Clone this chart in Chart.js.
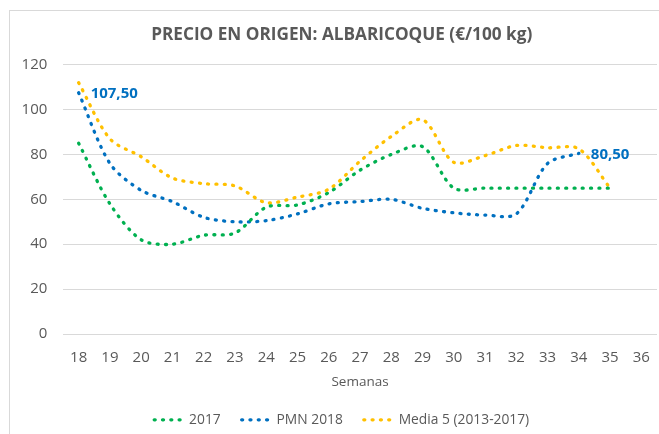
<!DOCTYPE html>
<html>
<head>
<meta charset="utf-8">
<script src="https://cdn.jsdelivr.net/npm/chart.js@4.4.1/dist/chart.umd.min.js"></script>
<style>
  html, body { margin: 0; padding: 0; background: #ffffff; overflow: hidden; }
  #frame { position: absolute; left: 9px; top: 10px; border-left: 1px solid #d9d9d9; border-top: 1px solid #d9d9d9; width: 680px; height: 460px; }
  #c { display: block; }
</style>
</head>
<body>
<div id="frame"><canvas id="c" width="666" height="440"></canvas></div>
<script>
const weeks = ['18','19','20','21','22','23','24','25','26','27','28','29','30','31','32','33','34','35','36'];
const serie2017 = [85, 58, 42, 40, 44, 45, 56.5, 57.5, 63, 73, 80, 83.5, 65, 65, 65, 65, 65, 65, null];
const pmn2018 = [107.5, 76, 64, 59, 52, 50, 50.5, 53.5, 58, 59, 60, 56, 54, 53, 53.5, 76, 80.5, null, null];
const media5 = [112, 87, 79, 69.5, 67, 66, 58.5, 61, 64.5, 77, 88, 95.5, 76.5, 79.5, 84, 83, 82.5, 65, null];
const seriesNames = ['2017', 'PMN 2018', 'Media 5 (2013-2017)'];
const labelledPoints = [0, 16]; // indexes of PMN 2018 points with value labels

const GRAY = '#595959';
const dash = [1, 7.3];

function ds(label, data, color) {
  return {
    label: label, data: data, borderColor: color, backgroundColor: color,
    borderWidth: 3.3, borderDash: dash, borderCapStyle: 'round',
    pointRadius: 0, pointHoverRadius: 0, tension: 0.3, fill: false
  };
}

const valueLabels = {
  id: 'valueLabels',
  afterDatasetsDraw(chart) {
    const meta = chart.getDatasetMeta(1);
    const ctx = chart.ctx;
    ctx.save();
    ctx.font = 'bold 15px "Open Sans"';
    ctx.fillStyle = '#0070C0';
    ctx.textAlign = 'left';
    ctx.textBaseline = 'middle';
    labelledPoints.forEach(i => {
      const el = meta.data[i];
      const v = chart.data.datasets[1].data[i];
      ctx.fillText(v.toFixed(2).replace('.', ','), el.x + 12, el.y + 1);
    });
    ctx.restore();
  }
};

new Chart(document.getElementById('c'), {
  type: 'line',
  data: {
    labels: weeks,
    datasets: [
      ds(seriesNames[0], serie2017, '#00B050'),
      ds(seriesNames[1], pmn2018, '#0070C0'),
      ds(seriesNames[2], media5, '#FFC000')
    ]
  },
  options: {
    responsive: false,
    animation: false,
    devicePixelRatio: 1,
    layout: { padding: { left: 0, right: 2.6, top: 0, bottom: 14.25 } },
    plugins: {
      title: {
        display: true,
        text: 'PRECIO EN ORIGEN: ALBARICOQUE (€/100 kg)',
        color: GRAY,
        font: { family: '"Open Sans"', size: 17.2, weight: 'bold', lineHeight: 1.2 },
        padding: { top: 13.7, bottom: 19.36 }
      },
      legend: {
        display: true,
        position: 'bottom',
        labels: {
          usePointStyle: true,
          pointStyle: 'line',
          pointStyleWidth: 28,
          padding: 21,
          color: GRAY,
          font: { family: '"Open Sans"', size: 13.8 },
          generateLabels(chart) {
            return chart.data.datasets.map((d, i) => ({
              text: d.label,
              fillStyle: d.borderColor,
              strokeStyle: d.borderColor,
              lineWidth: d.borderWidth,
              lineDash: d.borderDash,
              lineCap: 'round',
              pointStyle: 'line',
              hidden: false,
              datasetIndex: i,
              fontColor: GRAY
            }));
          }
        }
      },
      tooltip: { enabled: false }
    },
    scales: {
      x: {
        offset: true,
        grid: { display: false, drawTicks: false },
        border: { display: false },
        ticks: { color: GRAY, padding: 15, font: { family: '"Open Sans"', size: 15 }, maxRotation: 0, autoSkip: false },
        title: {
          display: true, text: 'Semanas', color: GRAY,
          font: { family: '"Open Sans"', size: 13.5, lineHeight: 1.2 },
          padding: { top: -8.4, bottom: 2.15 }
        },
        afterFit(scale) { scale.height = 57.95; }
      },
      y: {
        min: 0, max: 120,
        grid: { color: '#d9d9d9', lineWidth: 1, drawTicks: false },
        border: { display: false },
        ticks: { stepSize: 20, color: GRAY, padding: 15.7, font: { family: '"Open Sans"', size: 15 } },
        afterFit(scale) { scale.width = 53; }
      },
      y2: {
        type: 'linear',
        position: 'right',
        display: true,
        grid: { display: false, drawTicks: false },
        border: { display: false },
        ticks: { display: false },
        afterFit(scale) { scale.width = 16.4; }
      }
    }
  },
  plugins: [valueLabels]
});
</script>
</body>
</html>
